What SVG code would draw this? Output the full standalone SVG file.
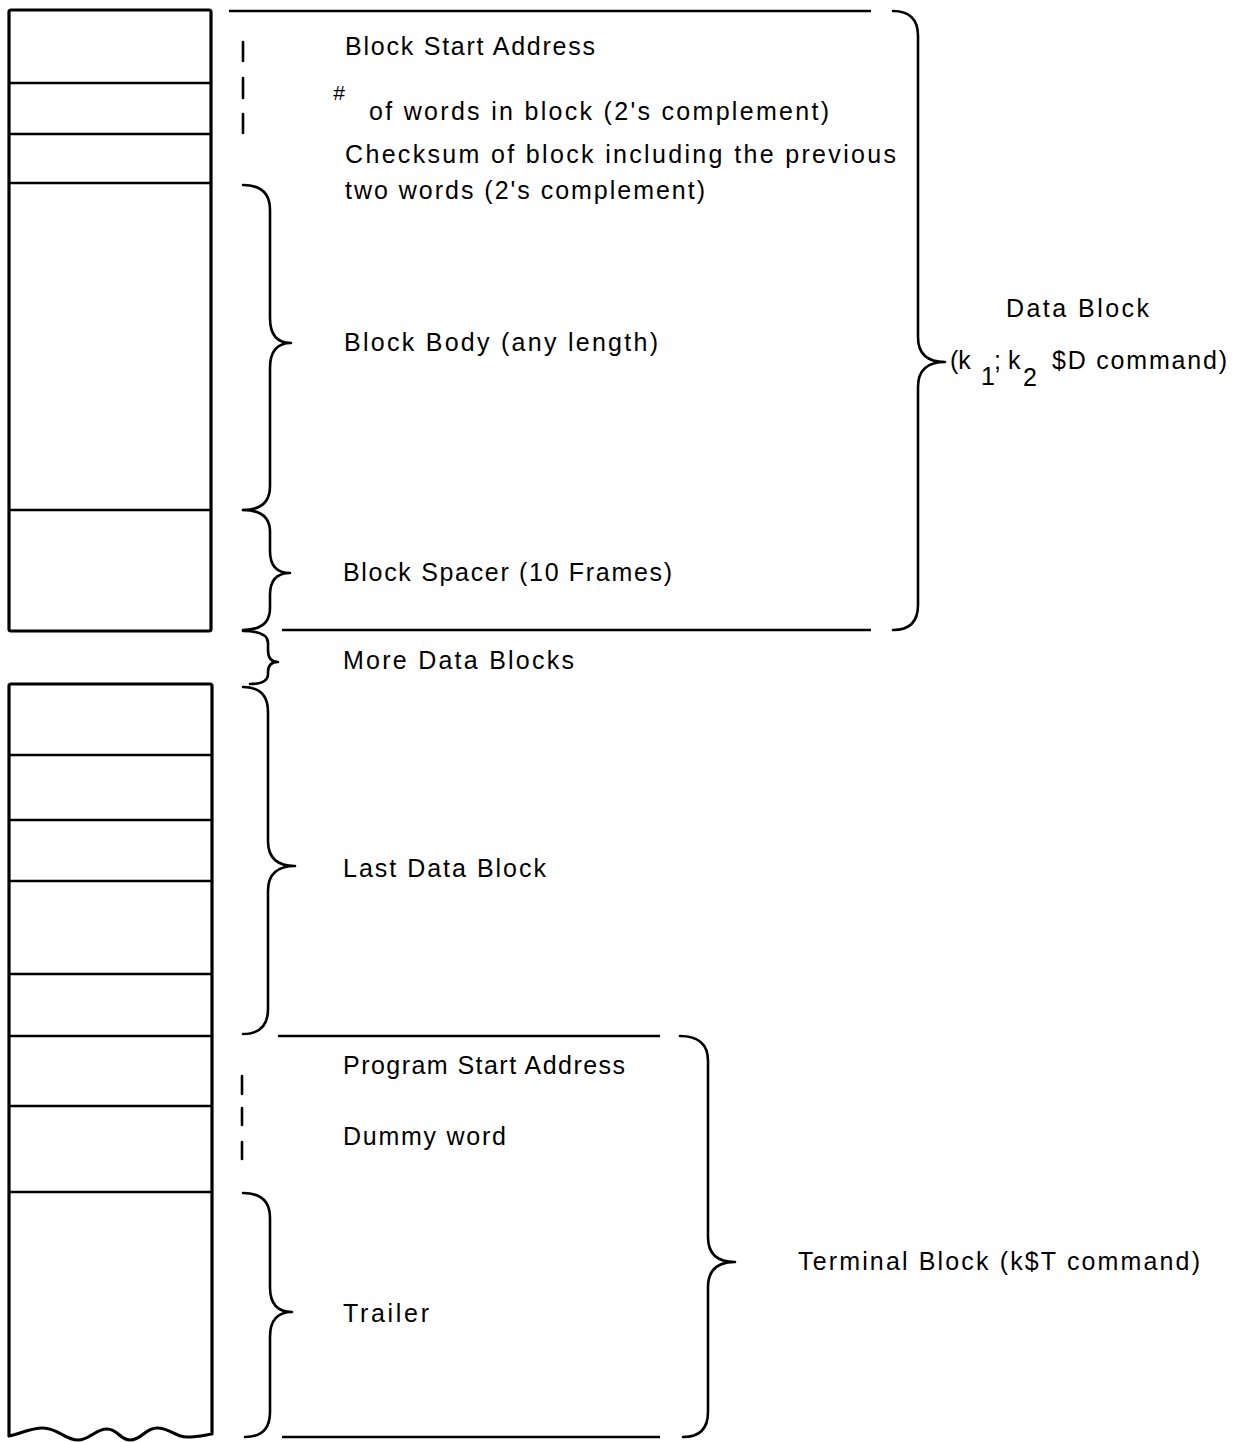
<svg xmlns="http://www.w3.org/2000/svg" width="1234" height="1442" viewBox="0 0 1234 1442">
<style>
.frame{fill:none;stroke:#000;stroke-width:3.2;stroke-linejoin:round}
.row{stroke:#000;stroke-width:2.6}
.br{fill:none;stroke:#000;stroke-width:2.6;stroke-linecap:round;stroke-linejoin:round}
.ln{stroke:#000;stroke-width:2.4}
.dash{stroke:#000;stroke-width:2.6;stroke-linecap:round}
.t{font-family:"Liberation Sans","DejaVu Sans",sans-serif;font-size:25px;fill:#000}
</style>
<rect width="1234" height="1442" fill="#fff"/>
<g id="data-block-column">
<rect class="frame" x="9" y="10" width="202" height="621" rx="2"/>
<line class="row" x1="9" y1="83" x2="211" y2="83"/>
<line class="row" x1="9" y1="134" x2="211" y2="134"/>
<line class="row" x1="9" y1="183" x2="211" y2="183"/>
<line class="row" x1="9" y1="510" x2="211" y2="510"/>
</g>
<g id="last-block-column">
<path class="frame" d="M9,1436 L9,686 Q9,684 11,684 L210,684 Q212,684 212,686 L212,1434 C205,1435 198,1437 187,1437 C175,1437 170,1428 157,1428 C145,1428 142,1440 130,1440 C120,1440 118,1429 107,1429 C95,1429 90,1440 78,1440 C65,1440 58,1428 43,1428 C30,1428 20,1434 9,1436 Z"/>
<line class="row" x1="9" y1="755" x2="212" y2="755"/>
<line class="row" x1="9" y1="820" x2="212" y2="820"/>
<line class="row" x1="9" y1="881" x2="212" y2="881"/>
<line class="row" x1="9" y1="974" x2="212" y2="974"/>
<line class="row" x1="9" y1="1036" x2="212" y2="1036"/>
<line class="row" x1="9" y1="1106" x2="212" y2="1106"/>
<line class="row" x1="9" y1="1192" x2="212" y2="1192"/>
</g>
<g id="connectors">
<line class="ln" x1="229" y1="11" x2="871" y2="11"/>
<line class="ln" x1="282" y1="630" x2="871" y2="630"/>
<line class="ln" x1="278" y1="1036" x2="660" y2="1036"/>
<line class="ln" x1="282" y1="1437" x2="660" y2="1437"/>
<line class="dash" x1="243" y1="42" x2="243" y2="61"/>
<line class="dash" x1="243" y1="78" x2="243" y2="98"/>
<line class="dash" x1="243" y1="114" x2="243" y2="133"/>
<line class="dash" x1="242" y1="1076" x2="242" y2="1094"/>
<line class="dash" x1="242" y1="1108" x2="242" y2="1125"/>
<line class="dash" x1="242" y1="1142" x2="242" y2="1159"/>
<path class="br" d="M243,185 Q270,185 270,210 L270,318 Q270,343 291,343 Q270,343 270,368 L270,486 Q270,510 243,510"/>
<path class="br" d="M243,510 Q270,510 270,532 L270,551 Q270,573 290,573 Q270,573 270,595 L270,608 Q270,630 243,630"/>
<path class="br" d="M243,631 Q268,631 268,643 L268,650 Q268,662 278,662 Q268,662 268,672 L268,674 Q268,684 250,684"/>
<path class="br" d="M243,687 Q268,687 268,712 L268,841 Q268,866 295,866 Q268,866 268,891 L268,1009 Q268,1034 243,1034"/>
<path class="br" d="M243,1193 Q270,1193 270,1218 L270,1287 Q270,1312 292,1312 Q270,1312 270,1337 L270,1412 Q270,1437 245,1437"/>
<path class="br" d="M893,11 Q918,11 918,36 L918,337 Q918,362 945,362 Q918,362 918,387 L918,605 Q918,630 893,630"/>
<path class="br" d="M680,1036 Q708,1036 708,1061 L708,1237 Q708,1262 735,1262 Q708,1262 708,1287 L708,1412 Q708,1437 683,1437"/>
</g>
<g id="labels">
<text class="t" x="345" y="55" textLength="250" lengthAdjust="spacing">Block Start Address</text>
<text class="t" x="333" y="100" style="font-size:21px;font-style:italic">#</text>
<text class="t" x="369" y="120" textLength="460" lengthAdjust="spacing">of words in block (2's complement)</text>
<text class="t" x="345" y="163" textLength="551" lengthAdjust="spacing">Checksum of block including the previous</text>
<text class="t" x="345" y="199" textLength="360" lengthAdjust="spacing">two words (2's complement)</text>
<text class="t" x="344" y="351" textLength="314" lengthAdjust="spacing">Block Body (any length)</text>
<text class="t" x="343" y="581" textLength="329" lengthAdjust="spacing">Block Spacer (10 Frames)</text>
<text class="t" x="343" y="669" textLength="231" lengthAdjust="spacing">More Data Blocks</text>
<text class="t" x="343" y="877" textLength="203" lengthAdjust="spacing">Last Data Block</text>
<text class="t" x="343" y="1074" textLength="282" lengthAdjust="spacing">Program Start Address</text>
<text class="t" x="343" y="1145" textLength="163" lengthAdjust="spacing">Dummy word</text>
<text class="t" x="343" y="1322" textLength="86" lengthAdjust="spacing">Trailer</text>
<text class="t" x="798" y="1270" textLength="402" lengthAdjust="spacing">Terminal Block (k$T command)</text>
<text class="t" x="1006" y="317" textLength="143" lengthAdjust="spacing">Data Block</text>
<text class="t" x="950" y="369">(k</text>
<text class="t" x="981" y="385">1</text>
<text class="t" x="994" y="369">; k</text>
<text class="t" x="1023" y="386">2</text>
<text class="t" x="1052" y="369" textLength="175" lengthAdjust="spacing">$D command)</text>
</g>
</svg>
